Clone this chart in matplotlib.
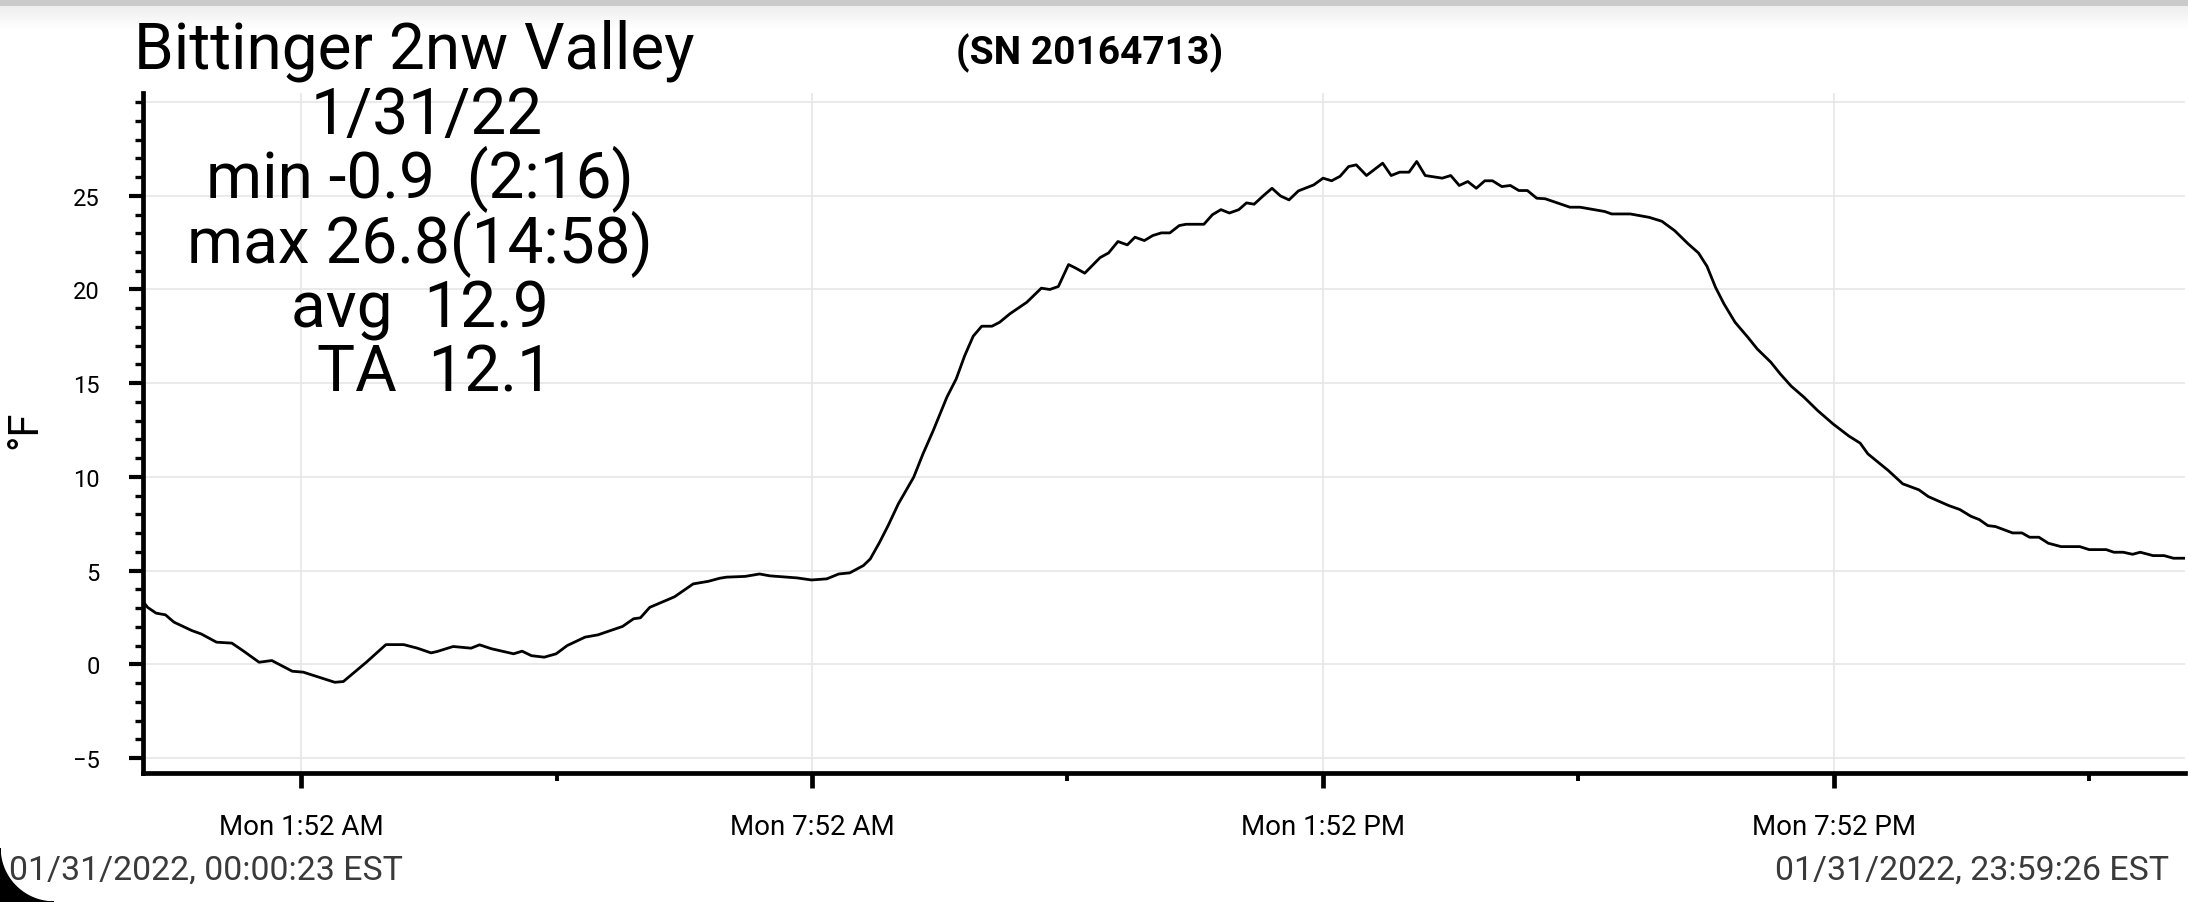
import numpy as np
import matplotlib
matplotlib.use("Agg")
import matplotlib.pyplot as plt
from matplotlib.ticker import FixedLocator, MultipleLocator
from matplotlib.patches import Polygon

plt.rcParams['font.family'] = ['Roboto', 'DejaVu Sans']

# data (hours after midnight, deg F)
hours = [0.00, 0.06, 0.16, 0.27, 0.37, 0.58, 0.69, 0.87, 1.05, 1.18, 1.37, 1.52,
         1.76, 1.89, 2.26, 2.36, 2.63, 2.86, 3.07, 3.23, 3.39, 3.46, 3.65, 3.86,
         3.96, 4.10, 4.36, 4.46, 4.57, 4.72, 4.86, 4.99, 5.20, 5.35, 5.64, 5.77,
         5.85, 5.96, 6.25, 6.47, 6.65, 6.78, 6.86, 7.08, 7.25, 7.37, 7.57, 7.69,
         7.86, 8.04, 8.18, 8.31, 8.47, 8.55, 8.66, 8.76, 8.88, 9.06, 9.17, 9.29,
         9.45, 9.56, 9.66, 9.76, 9.86, 9.98, 10.07, 10.19, 10.39, 10.56, 10.66, 10.76,
         10.88, 10.96, 11.07, 11.25, 11.35, 11.46, 11.57, 11.66, 11.77, 11.87, 11.97, 12.07,
         12.18, 12.26, 12.47, 12.57, 12.67, 12.77, 12.88, 12.97, 13.06, 13.17, 13.27, 13.37,
         13.47, 13.58, 13.76, 13.87, 13.97, 14.07, 14.17, 14.26, 14.38, 14.57, 14.67, 14.77,
         14.88, 14.97, 15.07, 15.27, 15.37, 15.47, 15.57, 15.67, 15.77, 15.86, 15.97, 16.07,
         16.17, 16.27, 16.38, 16.48, 16.77, 16.89, 17.18, 17.26, 17.48, 17.70, 17.85, 18.00,
         18.16, 18.28, 18.38, 18.48, 18.58, 18.71, 18.86, 18.97, 19.13, 19.24, 19.37, 19.52,
         19.68, 19.86, 20.05, 20.18, 20.27, 20.51, 20.68, 20.87, 20.98, 21.22, 21.35, 21.48,
         21.58, 21.68, 21.77, 21.97, 22.08, 22.17, 22.28, 22.39, 22.54, 22.76, 22.87, 23.07,
         23.16, 23.27, 23.38, 23.47, 23.62, 23.75, 23.86, 23.99]
temps = [3.40, 3.04, 2.73, 2.64, 2.25, 1.80, 1.62, 1.18, 1.13, 0.73, 0.11, 0.20,
         -0.37, -0.42, -0.96, -0.92, 0.11, 1.05, 1.05, 0.86, 0.61, 0.68, 0.95, 0.86,
         1.04, 0.83, 0.56, 0.70, 0.46, 0.38, 0.56, 1.00, 1.45, 1.57, 2.02, 2.43,
         2.48, 3.04, 3.60, 4.29, 4.43, 4.59, 4.65, 4.69, 4.82, 4.72, 4.65, 4.61,
         4.50, 4.56, 4.82, 4.88, 5.27, 5.62, 6.51, 7.40, 8.56, 9.98, 11.23, 12.47,
         14.25, 15.23, 16.47, 17.51, 18.04, 18.04, 18.25, 18.70, 19.32, 20.07, 20.00, 20.16,
         21.33, 21.15, 20.87, 21.70, 21.95, 22.56, 22.38, 22.79, 22.61, 22.88, 23.02, 23.02,
         23.41, 23.48, 23.48, 23.99, 24.26, 24.08, 24.26, 24.62, 24.55, 25.01, 25.40, 24.99,
         24.78, 25.26, 25.58, 25.94, 25.80, 26.04, 26.56, 26.65, 26.08, 26.74, 26.08, 26.26,
         26.26, 26.83, 26.08, 25.94, 26.08, 25.55, 25.76, 25.40, 25.80, 25.80, 25.49, 25.55,
         25.28, 25.28, 24.87, 24.84, 24.39, 24.39, 24.16, 24.03, 24.03, 23.85, 23.64, 23.14,
         22.43, 21.95, 21.24, 20.12, 19.23, 18.25, 17.45, 16.83, 16.12, 15.50, 14.84, 14.25,
         13.54, 12.83, 12.17, 11.80, 11.23, 10.34, 9.63, 9.31, 8.95, 8.47, 8.26, 7.90,
         7.72, 7.40, 7.35, 7.01, 7.01, 6.78, 6.78, 6.46, 6.28, 6.28, 6.12, 6.12,
         5.98, 5.98, 5.87, 5.98, 5.80, 5.80, 5.66, 5.66]

major_hours = [1.867, 7.867, 13.867, 19.867]
major_labels = ["Mon 1:52 AM", "Mon 7:52 AM", "Mon 1:52 PM", "Mon 7:52 PM"]
minor_hours = [4.867, 10.867, 16.867, 22.867]
y_major = [-5, 0, 5, 10, 15, 20, 25]

title = "Bittinger 2nw Valley"
serial = "(SN 20164713)"
stats_lines = ["1/31/22", "min -0.9  (2:16)", "max 26.8(14:58)", "avg  12.9", "TA  12.1"]
start_txt = "01/31/2022, 00:00:23 EST"
end_txt = "01/31/2022, 23:59:26 EST"

W, H = 2188, 903
fig = plt.figure(figsize=(W / 100, H / 100), dpi=100)
fig.patch.set_facecolor("white")

# top shadow bar of the screenshot
bar = fig.add_axes([0, 1 - 32 / H, 1, 32 / H])
grad = np.ones((32, 1))
grad[:7] = 0.79
grad[7:] = np.linspace(0.93, 1.0, 25)[:, None]
bar.imshow(grad, cmap="gray", vmin=0, vmax=1, aspect="auto")
bar.axis("off")

ax = fig.add_axes([143 / W, 1 - 774 / H, 2041.5 / W, 680.3 / H])
ax.plot(hours, temps, color="black", lw=2.0, zorder=3)

ax.set_xlim(0.0064, 23.99)
ax.set_ylim(-5.8, 30.5)

ax.xaxis.set_major_locator(FixedLocator(major_hours))
ax.set_xticklabels(major_labels)
ax.xaxis.set_minor_locator(FixedLocator(minor_hours))
ax.yaxis.set_major_locator(FixedLocator(y_major))
ax.yaxis.set_minor_locator(MultipleLocator(1))

ax.grid(True, which="major", color="#e6e6e6", lw=1.2, zorder=0)
ax.axhline(30, color="#e6e6e6", lw=1.2, zorder=0)

for s in ["top", "right"]:
    ax.spines[s].set_visible(False)
for s in ["left", "bottom"]:
    ax.spines[s].set_linewidth(3.4)

ax.tick_params(axis="x", which="major", length=11, width=3.4, labelsize=20, pad=18)
ax.tick_params(axis="x", which="minor", length=6, width=2.8)
ax.tick_params(axis="y", which="major", length=10, width=3.0, labelsize=17, pad=21)
ax.tick_params(axis="y", which="minor", length=5.5, width=2.4)

fig.text(25 / W, 1 - 430 / H, "°F", rotation=90, ha="center", va="center", fontsize=30)

fig.text(134 / W, 1 - 69 / H, title, ha="left", va="baseline", fontsize=46)
fig.text(1090 / W, 1 - 64 / H, serial, ha="center", va="baseline", fontsize=28,
         fontweight="bold")

stats_x = [427, 420, 420, 420, 435]
for i, line in enumerate(stats_lines):
    fig.text(stats_x[i] / W, 1 - (134 + 64.5 * i) / H, line, ha="center", va="baseline",
             fontsize=46)

fig.text(9 / W, 23 / H, start_txt, ha="left", va="baseline", fontsize=24.4, color="#3a3a3a")
fig.text(2169 / W, 23 / H, end_txt, ha="right", va="baseline", fontsize=24.4, color="#3a3a3a")

# rounded screen corner at bottom left
R = 54
ang = np.linspace(np.pi, 1.5 * np.pi, 30)
pts = [(0, 0)] + [((R + R * np.cos(a)) / W, (R + R * np.sin(a)) / H) for a in ang]
fig.add_artist(Polygon(pts, closed=True, color="black", transform=fig.transFigure))

fig.savefig("out.png", dpi=100)
